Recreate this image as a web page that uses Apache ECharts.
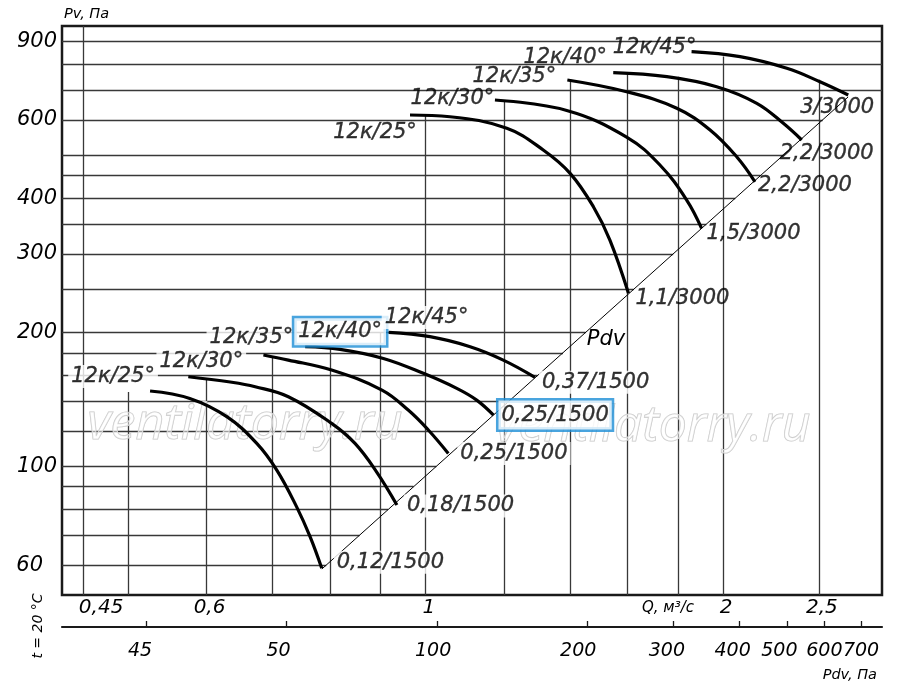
<!DOCTYPE html>
<html><head><meta charset="utf-8">
<script src="https://cdn.jsdelivr.net/npm/echarts@6/dist/echarts.min.js"></script>
<style>html,body{margin:0;padding:0;background:#fff}#c{width:900px;height:689px}</style>
</head><body><div id="c"></div>
<script>
// ---------------- data ----------------
const qRange = [0.4284, 2.896];          // Q, m3/s (plot extent)
const pvRange = [51.4, 976];             // Pv, Pa (plot extent)
const qTickValues = [0.45, 0.6, 1, 2, 2.5];
const qTickLabels = ['0,45', '0,6', '1', '2', '2,5'];
const pvTickValues = [60, 100, 200, 300, 400, 600, 900];
const pvTickLabels = ['60', '100', '200', '300', '400', '600', '900'];
const pdvTickQ = [0.521, 0.722, 1.027, 1.457, 1.781, 2.076, 2.320, 2.532, 2.758];
const pdvTickLabels = ['45', '50', '100', '200', '300', '400', '500', '600', '700'];

const pvGrid     = [60, 70, 80, 90, 100, 120, 140, 160, 180, 200, 250, 300, 350, 400, 450, 500, 600, 700, 800, 900];
const pvGridEndQ = [0.793, 0.857, 0.916, 0.972, 1.025, 1.123, 1.214, 1.298, 1.377, 1.452, 1.624, 1.780, 1.923, 2.057, 2.182, 2.301, 2.522, null, null, null];
const qGrid      = [0.45, 0.5, 0.6, 0.7, 0.8, 0.9, 1, 1.2, 1.4, 1.6, 1.8, 2, 2.5];
const qGridTopPv = [null, 147, 158, 177, 185, 200, 616, 662, 741, 763, 751, 833, 739];

const curveNames = ['12к/25°', '12к/30°', '12к/35°', '12к/40°', '12к/45°'];
const motors1500 = ['0,12/1500', '0,18/1500', '0,25/1500', '0,25/1500', '0,37/1500'];
const motors3000 = ['1,1/3000', '1,5/3000', '2,2/3000', '2,2/3000', '3/3000'];

const curves1500Q = [
  [0.526, 0.577, 0.629, 0.6745, 0.7067, 0.740, 0.7637, 0.7848],
  [0.575, 0.634, 0.672, 0.726, 0.803, 0.848, 0.892, 0.935],
  [0.685, 0.726, 0.803, 0.903, 0.960, 1.006, 1.054],
  [0.755, 0.819, 0.906, 0.9944, 1.075, 1.126, 1.171],
  [0.917, 1.010, 1.109, 1.198, 1.290]
];
const curves1500Pv = [
  [147.7, 142.1, 129.3, 112.6, 98.1, 81.2, 69.5, 59.0],
  [159.0, 154.7, 151.0, 143.4, 124.9, 112.6, 97.1, 81.9],
  [177.9, 173.3, 164.6, 148.4, 133.8, 120.7, 106.9],
  [185.7, 183.2, 174.8, 161.8, 149.7, 140.9, 130.4],
  [200.0, 195.6, 185.7, 173.3, 158.5]
];
const curves3000Q = [
  [0.964, 1.058, 1.208, 1.315, 1.400, 1.478, 1.536, 1.604],
  [1.175, 1.389, 1.597, 1.726, 1.837, 1.902],
  [1.391, 1.597, 1.795, 1.940, 2.064, 2.154],
  [1.548, 1.754, 1.970, 2.163, 2.301, 2.402],
  [1.858, 2.080, 2.320, 2.506, 2.677]
];
const curves3000Pv = [
  [615.8, 610.4, 575.0, 513.9, 455.4, 383.2, 322.5, 244.8],
  [665.6, 630.6, 549.5, 475.5, 396.7, 342.6],
  [738.1, 694.8, 637.7, 570.0, 496.3, 436.0],
  [766.5, 750.8, 712.9, 654.3, 589.9, 541.2],
  [854.6, 832.8, 784.3, 731.6, 683.1]
];
const pdvLineQ = [0.785, 2.676];
const pdvLinePv = [58.8, 676];

// ---------------- layout / style ----------------
const lg = Math.log10;
const FONT = "'DejaVu Sans', sans-serif";
const INK = '#000';
const GRIDC = '#383838';
const BLUE = '#1b8dd6';
const PLOT_W = 820;                                   // grid width in px
const PX_PER_DECADE = PLOT_W / (lg(qRange[1]) - lg(qRange[0]));
const pdvLabelShiftPx = [-6, -7.5, -4, -9, -6.5, -6.5, -7.5, 0, 0];   // italic labels sit a little left of some ticks

const lowerNameOffset = [[-37, -14.5], [13, -15], [-12, -17.5], [35, -15], [38, -15]];
const upperNameOffset = [[-35, 17.5], [-42.5, -1], [-53, -3], [-48, -15], [-37, -4]];
const lowerMotorOffset = [[12, -6], [7, 1], [9, 0], [5, 0], [4, 5]];
const upperMotorOffset = [[7, 5], [5, 5], [3, 4], [-22, 14], [-48, 13]];
const boxedIndex = 3;

function pickLabel(logVals, labels, v) {
  for (let i = 0; i < logVals.length; i++) if (Math.abs(logVals[i] - v) < 1e-6) return labels[i];
  return '';
}
const qTickLog = qTickValues.map(lg);
const pvTickLog = pvTickValues.map(lg);
const pdvTickLog = pdvTickQ.map(lg);
const pdvLabelLog = pdvTickLog.map((v, i) => v + pdvLabelShiftPx[i] / PX_PER_DECADE);

// grid lines
const gridLines = [];
pvGrid.forEach((p, i) => {
  const qe = pvGridEndQ[i] == null ? qRange[1] : pvGridEndQ[i];
  gridLines.push({coords: [[lg(qRange[0]), lg(p)], [lg(qe), lg(p)]]});
});
qGrid.forEach((q, i) => {
  const pt = qGridTopPv[i] == null ? pvRange[1] : qGridTopPv[i];
  gridLines.push({coords: [[lg(q), lg(pvRange[0])], [lg(q), lg(pt)]]});
});

const series = [{
  type: 'lines', coordinateSystem: 'cartesian2d', polyline: false, silent: true, z: 1,
  lineStyle: {color: GRIDC, width: 1.3, opacity: 1},
  data: gridLines
}, {
  type: 'line', symbol: 'none', silent: true, z: 3,
  lineStyle: {color: '#000', width: 1},
  data: pdvLineQ.map((q, i) => [lg(q), lg(pdvLinePv[i])])
}];

function addCurves(Qs, Ps) {
  Qs.forEach((qs, k) => {
    series.push({
      type: 'line', symbol: 'none', smooth: 0.4, silent: true, z: 4,
      lineStyle: {color: '#000', width: 3.2},
      data: qs.map((q, i) => [lg(q), lg(Ps[k][i])])
    });
  });
}
addCurves(curves1500Q, curves1500Pv);
addCurves(curves3000Q, curves3000Pv);

// labels
const labelData = [];
function lab(q, p, text, extra) {
  labelData.push({value: [lg(q), lg(p)], label: Object.assign({show: true, formatter: text}, extra)});
}
for (let i = 0; i < 5; i++) {
  const boxed = i === boxedIndex;
  const lq = curves1500Q[i], lp = curves1500Pv[i];
  lab(lq[0], lp[0], curveNames[i], {
    offset: lowerNameOffset[i], align: 'center', verticalAlign: 'middle',
    backgroundColor: '#fff', padding: boxed ? [3, 4] : [1, 3],
    borderColor: boxed ? BLUE : 'transparent', borderWidth: boxed ? 2.5 : 0
  });
  lab(lq[lq.length - 1], lp[lp.length - 1], motors1500[i], {
    offset: lowerMotorOffset[i], align: 'left', verticalAlign: 'middle',
    backgroundColor: '#fff', padding: boxed ? [4, 3] : [1, 3],
    borderColor: boxed ? BLUE : 'transparent', borderWidth: boxed ? 2.5 : 0
  });
  const uq = curves3000Q[i], up = curves3000Pv[i];
  lab(uq[0], up[0], curveNames[i], {offset: upperNameOffset[i], align: 'center', verticalAlign: 'middle'});
  lab(uq[uq.length - 1], up[up.length - 1], motors3000[i], {offset: upperMotorOffset[i], align: 'left', verticalAlign: 'middle'});
}
series.push({
  type: 'scatter', symbol: 'circle', symbolSize: 1, silent: true, z: 6,
  itemStyle: {color: 'rgba(0,0,0,0)'},
  label: {show: true, position: 'inside', fontFamily: FONT, fontStyle: 'italic', fontSize: 21, color: INK, textBorderColor: INK, textBorderWidth: 0.35},
  data: labelData
});

const txt = (x, y, text, size, align, extra) => Object.assign({
  type: 'text', x: x, y: y, z: 20, silent: true,
  style: {text: text, font: 'italic ' + size + 'px ' + FONT, fill: INK, align: align, verticalAlign: 'middle', textAlign: align, textVerticalAlign: 'middle'}
}, extra || {});

const option = {
  animation: false,
  backgroundColor: '#fff',
  grid: {left: 62, right: 18, top: 26, bottom: 94, show: true, borderColor: '#1a1a1a', borderWidth: 2.5, backgroundColor: 'transparent'},
  xAxis: [{
    type: 'value', min: lg(qRange[0]), max: lg(qRange[1]), position: 'bottom',
    axisLine: {show: false}, axisTick: {show: false}, splitLine: {show: false},
    axisLabel: {
      customValues: qTickLog, margin: 3,
      fontFamily: FONT, fontStyle: 'italic', fontSize: 20, color: INK, padding: [0, 0, 0, 6],
      formatter: v => { const t = pickLabel(qTickLog, qTickLabels, v); return t === '0,45' ? '{s|' + t + '}' : t; },
      rich: {s: {fontFamily: FONT, fontStyle: 'italic', fontSize: 20, color: INK, padding: [0, 0, 0, 30]}}
    }
  }, {
    type: 'value', min: lg(qRange[0]), max: lg(qRange[1]), position: 'bottom', offset: 32,
    axisLine: {show: true, lineStyle: {color: '#1a1a1a', width: 2.2}},
    axisTick: {show: true, inside: true, length: 6, customValues: pdvTickLog, lineStyle: {color: '#1a1a1a', width: 1.3}},
    splitLine: {show: false},
    axisLabel: {
      customValues: pdvLabelLog, margin: 15,
      fontFamily: FONT, fontStyle: 'italic', fontSize: 19, color: INK,
      formatter: v => pickLabel(pdvLabelLog, pdvTickLabels, v)
    }
  }],
  yAxis: {
    type: 'value', min: lg(pvRange[0]), max: lg(pvRange[1]),
    axisLine: {show: false}, axisTick: {show: false}, splitLine: {show: false},
    axisLabel: {
      customValues: pvTickLog, margin: 5,
      fontFamily: FONT, fontStyle: 'italic', fontSize: 21, color: INK,
      formatter: v => { const t = pickLabel(pvTickLog, pvTickLabels, v); return t === '60' ? '{s|' + t + '}' : t; },
      rich: {s: {fontFamily: FONT, fontStyle: 'italic', fontSize: 21, color: INK, padding: [0, 14, 0, 0]}}
    }
  },
  graphic: [
    txt(64, 14, 'Pv, Па', 14.5, 'left'),
    txt(668, 608, 'Q, м³/с', 15, 'center'),
    txt(877, 675, 'Pdv, Па', 14.5, 'right'),
    txt(38, 626, 't = 20 °C', 14, 'center', {rotation: Math.PI / 2}),
    txt(606, 340, 'Pdv', 21, 'center'),
    {type: 'text', x: 245, y: 425, z: 2, silent: true, style: {text: 'ventilatorry.ru', font: 'italic 50px "Open Sans", sans-serif', fill: 'rgba(255,255,255,0.5)', stroke: '#c6c6c6', lineWidth: 1.1, align: 'center', verticalAlign: 'middle', textAlign: 'center', textVerticalAlign: 'middle'}},
    {type: 'text', x: 653, y: 427, z: 2, silent: true, style: {text: 'ventilatorry.ru', font: 'italic 50px "Open Sans", sans-serif', fill: 'rgba(255,255,255,0.5)', stroke: '#c6c6c6', lineWidth: 1.1, align: 'center', verticalAlign: 'middle', textAlign: 'center', textVerticalAlign: 'middle'}}
  ],
  series: series
};
const chart = echarts.init(document.getElementById('c'));
chart.setOption(option);
</script></body></html>
